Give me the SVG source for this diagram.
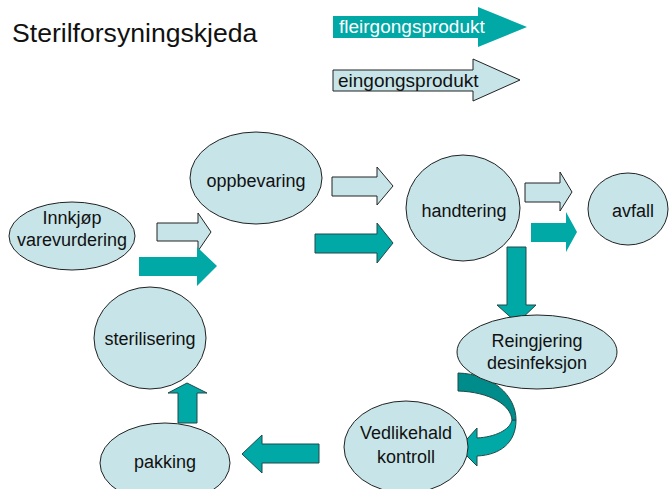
<svg xmlns="http://www.w3.org/2000/svg" width="669" height="489" viewBox="0 0 669 489">
<style>
.node{fill:#C7E5E9;stroke:#222;stroke-width:1}
.lbl{font-family:"Liberation Sans",Arial,sans-serif;font-size:18px;fill:#111;text-anchor:middle}
.light{fill:#C7E5E9;stroke:#222;stroke-width:1}
.teal{fill:#00A8A6;stroke:none}
.tealo{fill:#00A8A6;stroke:#1E4A4A;stroke-width:1}
</style>
<rect width="669" height="489" fill="#fff"/>
<text x="12" y="42" font-family="Liberation Sans,Arial,sans-serif" font-size="26.6" fill="#111">Sterilforsyningskjeda</text>
<g id="legend">
<path class="teal" d="M333,16 L478,16 L478,7 L527,27 L478,47 L478,38 L333,38 Z"/>
<text x="339" y="33" font-family="Liberation Sans,Arial,sans-serif" font-size="19" fill="#fff">fleirgongsprodukt</text>
<path class="light" d="M333,70 L473,70 L473,59 L520,80 L473,101 L473,91 L333,91 Z"/>
<text x="338" y="87" font-family="Liberation Sans,Arial,sans-serif" font-size="19" fill="#111">eingongsprodukt</text>
</g>
<g id="connectors">
<path class="light" d="M157,223 L198,223 L198,213 L211,232 L198,251 L198,241 L157,241 Z"/>
<path class="teal" d="M139,257 L197,257 L197,247 L217,266 L197,286 L197,276 L139,276 Z"/>
<path class="light" d="M332,177 L377,177 L377,167 L393,186 L377,205 L377,196 L332,196 Z"/>
<path class="tealo" d="M315,234 L377,234 L377,223 L393,243 L377,263 L377,253 L315,253 Z"/>
<path class="light" d="M525,183 L560,183 L560,172 L572,192 L560,211 L560,202 L525,202 Z"/>
<path class="teal" d="M531,223 L566,223 L566,212 L577,232 L566,252 L566,242 L531,242 Z"/>
<path class="tealo" d="M507,247 L526,247 L526,305 L536,305 L517,323 L497,305 L507,305 Z"/>
<path class="tealo" d="M516,420 C516,443 500,455 477,456 L477,466 L459,448 L477,428 L477,438 C495,437 510,430 512,420 Z"/>
<path fill="#008C8A" stroke="#1E4A4A" stroke-width="1" d="M458,373 C492,374 516,395 516,420 L512,420 C511,405 490,392 458,391 Z"/>
<path class="tealo" d="M319,444 L262,444 L262,435 L242,454 L262,473 L262,463 L319,463 Z"/>
<path class="tealo" d="M178,423 L178,393 L168,393 L187,383 L207,393 L197,393 L197,423 Z"/>
</g>
<g id="innkjop"><ellipse class="node" cx="72" cy="236" rx="63" ry="34"/><text class="lbl" x="72" y="224">Innkjøp</text><text class="lbl" x="72" y="246">varevurdering</text></g>
<g id="oppbevaring"><ellipse class="node" cx="256" cy="178" rx="66" ry="46"/><text class="lbl" x="256" y="187">oppbevaring</text></g>
<g id="handtering"><ellipse class="node" cx="463" cy="208" rx="57" ry="53"/><text class="lbl" x="464" y="217">handtering</text></g>
<g id="avfall"><ellipse class="node" cx="628" cy="209" rx="40" ry="36"/><text class="lbl" x="633" y="217">avfall</text></g>
<g id="reingjering"><ellipse class="node" cx="537" cy="352" rx="80" ry="37"/><text class="lbl" x="537" y="347">Reingjering</text><text class="lbl" x="537" y="369">desinfeksjon</text></g>
<g id="vedlikehald"><ellipse class="node" cx="406" cy="447" rx="62" ry="46"/><text class="lbl" x="406" y="439">Vedlikehald</text><text class="lbl" x="406" y="463">kontroll</text></g>
<g id="sterilisering"><ellipse class="node" cx="150" cy="338" rx="56" ry="51"/><text class="lbl" x="150" y="345">sterilisering</text></g>
<g id="pakking"><ellipse class="node" cx="165" cy="463" rx="65" ry="40"/><text class="lbl" x="165" y="468">pakking</text></g>
</svg>
